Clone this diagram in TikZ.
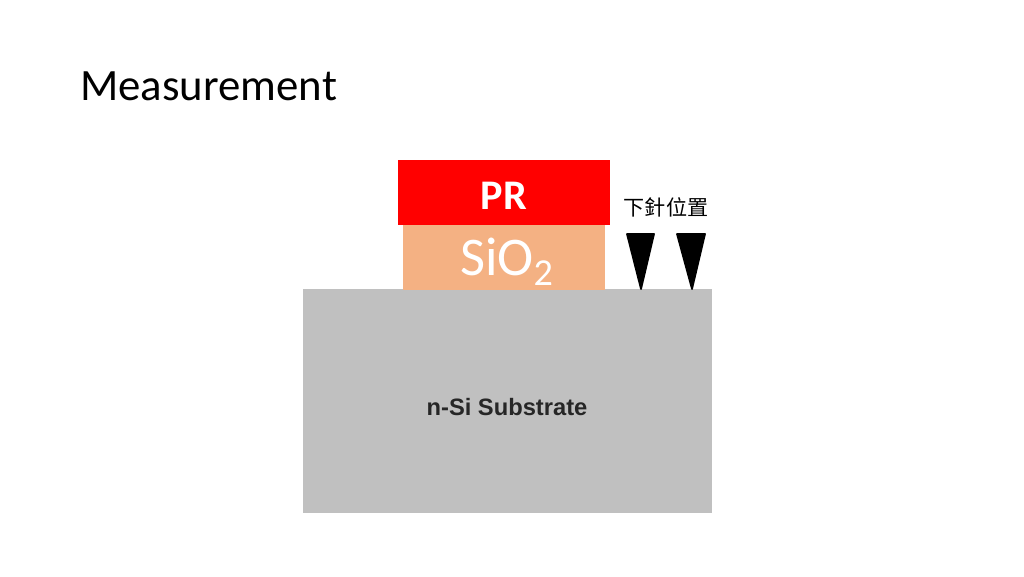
\documentclass[tikz,border=0pt]{standalone}
\usepackage{fontspec}
\setmainfont{Carlito}
\newfontfamily\cjk{Noto Sans CJK TC}
\newfontfamily\arialfont{Liberation Sans}
\definecolor{prred}{HTML}{FF0000}
\definecolor{oxide}{HTML}{F4B183}
\definecolor{substrate}{HTML}{C0C0C0}
\tikzset{layer/.style={inner sep=0pt}, probe/.style={fill=black, line join=round, draw=black, line width=1pt}}
\begin{document}
\begin{tikzpicture}[x=0.02cm,y=-0.02cm]
        \useasboundingbox (0,0) rectangle (1024,576);

        %title
        \node at (80,86) [layer, anchor=west, font=\fontsize{25.5}{30}\selectfont] (title) {Measurement};

        %layers
        \fill [substrate] (303,289) rectangle (712,513);
        \fill [oxide] (403,225) rectangle (605,290);
        \fill [prred] (398,160) rectangle (610,225);
        \node at (504,196) [layer, text=white, font=\fontsize{24}{28}\selectfont\bfseries] (pr) {PR};
        \node at (507,262) [layer, text=white, font=\fontsize{31}{36}\selectfont] (sio) {SiO\textsubscript{2}};
        \node at (507,407) [layer, text=black!85, font=\arialfont\fontsize{13.5}{16}\selectfont\bfseries] (sub) {n-Si Substrate};

        %probes
        \node at (666,207) [layer, font=\cjk\fontsize{12}{14}\selectfont] (label) {下針位置};
        \draw [probe] (627,234) -- (654,234) -- (641,289) -- cycle;
        \draw [probe] (677,234) -- (705,234) -- (692,289) -- cycle;

\end{tikzpicture}
\end{document}
